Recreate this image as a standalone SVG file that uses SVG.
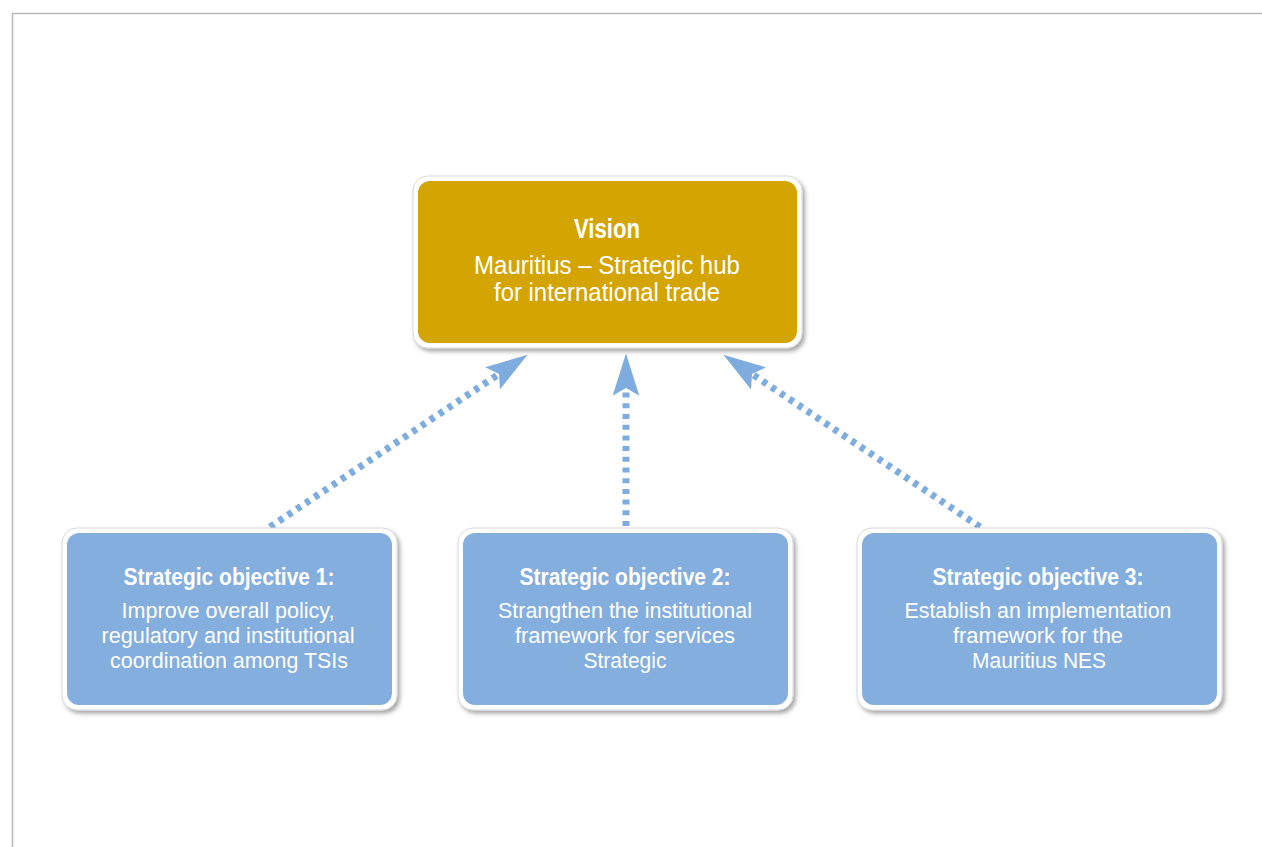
<svg xmlns="http://www.w3.org/2000/svg" width="1262" height="847" viewBox="0 0 1262 847">
<style>
text{font-family:"Liberation Sans",Arial,sans-serif;fill:#fff;text-anchor:middle}
.t{font-weight:bold;font-size:23px}
.b{font-size:22px}
.vt{font-weight:bold;font-size:27px}
.vb{font-size:26px}
.frame{fill:#fff;stroke:#d8d8d8;stroke-width:1;filter:url(#sh)}
.gold{fill:#D4A400}
.blue{fill:#84AEDE}
.con{fill:none;stroke:#7FACDF;stroke-width:7;stroke-dasharray:5 5.7;marker-end:url(#ah)}
</style>
<defs>
<filter id="sh" x="-10%" y="-10%" width="125%" height="130%">
<feDropShadow dx="2.5" dy="3" stdDeviation="2" flood-color="#000" flood-opacity="0.35"/>
</filter>
<marker id="ah" markerUnits="userSpaceOnUse" markerWidth="50" markerHeight="50" viewBox="-10 -15 45 30" refX="0" refY="0" orient="auto" overflow="visible">
<path d="M31,0 L-7,-12 L0,0 L-7,12 Z" fill="#7FACDF"/>
</marker>
</defs>
<rect width="1262" height="847" fill="#fff"/>
<path d="M12.5,847 V13.5 H1262" fill="none" stroke="#b8b8b8" stroke-width="1.5"/>
<g id="connectors">
<line class="con" x1="270" y1="527" x2="499" y2="374"/>
<line class="con" x1="626" y1="526" x2="626" y2="388"/>
<line class="con" x1="980" y1="527" x2="752" y2="374"/>
</g>
<g id="vision">
<rect class="frame" x="413" y="176" width="389" height="172" rx="15"/>
<rect class="gold" x="418" y="181" width="379" height="162" rx="12"/>
<text class="vt" x="607" y="238" textLength="66" lengthAdjust="spacingAndGlyphs">Vision</text>
<text class="vb" x="607" y="274" textLength="266" lengthAdjust="spacingAndGlyphs">Mauritius – Strategic hub</text>
<text class="vb" x="607" y="301" textLength="226" lengthAdjust="spacingAndGlyphs">for international trade</text>
</g>
<g id="objective1">
<rect class="frame" x="62" y="528" width="335" height="182" rx="15"/>
<rect class="blue" x="67" y="533" width="325" height="172" rx="12"/>
<text class="t" x="229" y="585" textLength="211" lengthAdjust="spacingAndGlyphs">Strategic objective 1:</text>
<text class="b" x="228" y="618" textLength="213" lengthAdjust="spacingAndGlyphs">Improve overall policy,</text>
<text class="b" x="228" y="643" textLength="253" lengthAdjust="spacingAndGlyphs">regulatory and institutional</text>
<text class="b" x="229" y="668" textLength="238" lengthAdjust="spacingAndGlyphs">coordination among TSIs</text>
</g>
<g id="objective2">
<rect class="frame" x="458" y="528" width="335" height="182" rx="15"/>
<rect class="blue" x="463" y="533" width="325" height="172" rx="12"/>
<text class="t" x="625" y="585" textLength="211" lengthAdjust="spacingAndGlyphs">Strategic objective 2:</text>
<text class="b" x="625" y="618" textLength="254" lengthAdjust="spacingAndGlyphs">Strangthen the institutional</text>
<text class="b" x="625" y="643" textLength="220" lengthAdjust="spacingAndGlyphs">framework for services</text>
<text class="b" x="625" y="668" textLength="83" lengthAdjust="spacingAndGlyphs">Strategic</text>
</g>
<g id="objective3">
<rect class="frame" x="857" y="528" width="365" height="182" rx="15"/>
<rect class="blue" x="862" y="533" width="355" height="172" rx="12"/>
<text class="t" x="1038" y="585" textLength="211" lengthAdjust="spacingAndGlyphs">Strategic objective 3:</text>
<text class="b" x="1038" y="618" textLength="267" lengthAdjust="spacingAndGlyphs">Establish an implementation</text>
<text class="b" x="1038" y="643" textLength="170" lengthAdjust="spacingAndGlyphs">framework for the</text>
<text class="b" x="1039" y="668" textLength="134" lengthAdjust="spacingAndGlyphs">Mauritius NES</text>
</g>
</svg>
